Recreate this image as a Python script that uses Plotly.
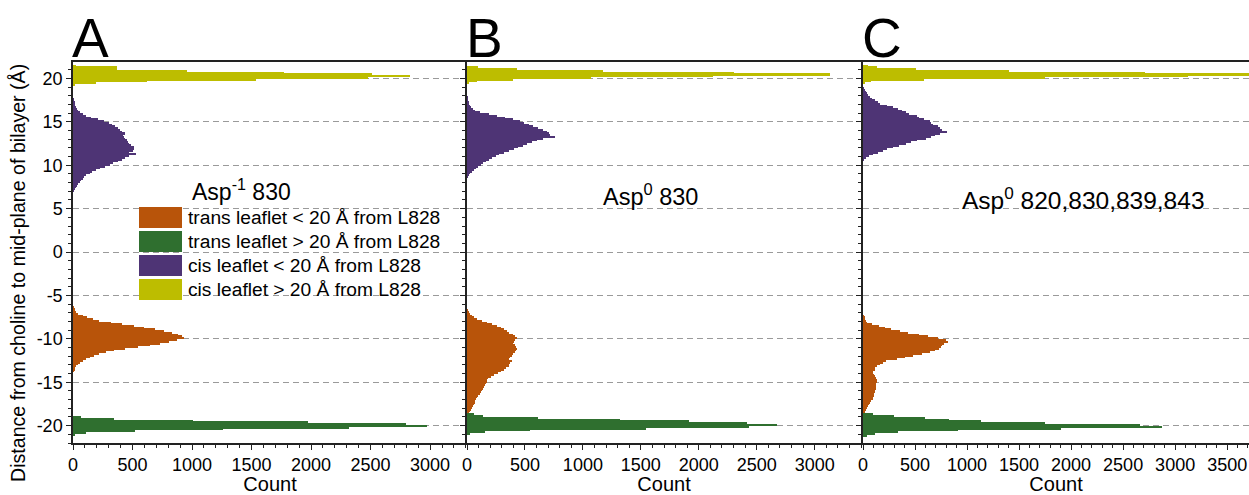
import plotly.graph_objects as go

# ---------------- data (histogram counts, bin width 0.2 Å, listed from lowest bin upward) ----------------
BIN_WIDTH = 0.2
panel_letters = ["A", "B", "C"]
panel_labels = ["Asp<sup>-1</sup> 830", "Asp<sup>0</sup> 830", "Asp<sup>0</sup> 820,830,839,843"]
series_names = ["trans leaflet < 20 Å from L828", "trans leaflet > 20 Å from L828",
                "cis leaflet < 20 Å from L828", "cis leaflet > 20 Å from L828"]
series_colors = ["#B8540A", "#2F6F2F", "#4E3475", "#BDBD00"]

y_tickvals = [-20, -15, -10, -5, 0, 5, 10, 15, 20]
y_ticktext = ["-20", "-15", "-10", "-5", "0", "5", "10", "15", "20"]
x_tickvals_A = [0, 500, 1000, 1500, 2000, 2500, 3000]
x_tickvals_B = [0, 500, 1000, 1500, 2000, 2500, 3000]
x_tickvals_C = [0, 500, 1000, 1500, 2000, 2500, 3000, 3500]
x_max = [3310, 3400, 3710]

# Panel A
A_trans_near_start = -13.8
A_trans_near = [5, 10, 15, 25, 40, 60, 80, 110, 140, 180, 215, 280, 345, 435, 550, 645, 735, 810, 870, 930,
                915, 880, 830, 765, 690, 600, 510, 410, 320, 220, 165, 120, 80, 45, 28, 18, 10, 5]
A_trans_far_start = -21.1
A_trans_far = [15, 105, 520, 1260, 2315, 2970, 2800, 1970, 1010, 345, 65]
A_cis_near_start = 7.0
A_cis_near = [8, 15, 25, 35, 45, 55, 65, 80, 95, 110, 140, 160, 190, 225, 270, 310, 340, 380, 410, 440,
              470, 530, 470, 500, 515, 510, 490, 470, 465, 450, 440, 430, 420, 440, 410, 395, 380, 355, 330, 300,
              260, 210, 150, 110, 80, 60, 45, 35, 25, 20, 15, 10, 6, 3]
A_cis_far_start = 19.2
A_cis_far = [20, 190, 620, 1540, 2480, 2830, 2510, 1770, 955, 370, 370, 25]

# Panel B
B_trans_near_start = -18.8
B_trans_near = [8, 18, 28, 35, 42, 50, 58, 65, 72, 80, 88, 95, 110, 125, 130, 140, 145, 155, 160, 170,
                175, 185, 205, 235, 265, 290, 315, 340, 360, 365, 375, 385, 360, 375, 390, 400, 410, 425, 430, 425,
                410, 395, 405, 415, 430, 410, 395, 365, 345, 315, 290, 260, 220, 175, 130, 85, 62, 45, 28, 15, 3]
B_trans_far_start = -21.0
B_trans_far = [30, 155, 542, 1545, 2433, 2677, 2419, 1917, 1316, 613, 140, 60]
B_cis_near_start = 8.6
B_cis_near = [8, 18, 30, 45, 60, 75, 95, 120, 140, 160, 190, 220, 250, 280, 320, 365, 405, 440, 480, 515,
              560, 600, 660, 760, 720, 705, 690, 655, 615, 570, 535, 490, 455, 400, 325, 255, 190, 110, 72, 55,
              38, 25, 17, 12, 8, 5, 2]
B_cis_far_start = 19.4
B_cis_far = [20, 83, 400, 1070, 2120, 3135, 2300, 1170, 430, 97]

# Panel C
C_trans_near_start = -18.6
C_trans_near = [12, 22, 32, 40, 50, 58, 68, 80, 98, 100, 104, 108, 112, 118, 124, 124, 125, 128, 130, 132,
                128, 118, 108, 98, 100, 112, 120, 130, 160, 195, 225, 325, 400, 485, 570, 645, 690, 735, 750, 760,
                775, 815, 795, 720, 625, 540, 430, 360, 270, 215, 150, 85, 40, 28, 20, 12, 3]
C_trans_far_start = -21.2
C_trans_far = [40, 120, 340, 910, 1900, 2870, 2660, 1750, 1130, 830, 600, 300, 100]
C_cis_near_start = 10.6
C_cis_near = [5, 25, 55, 95, 140, 190, 235, 290, 350, 415, 460, 515, 610, 655, 690, 740, 810, 760, 740, 720,
              670, 650, 640, 590, 540, 515, 440, 410, 375, 340, 290, 230, 165, 140, 115, 90, 65, 48, 35, 25,
              15, 5]
C_cis_far_start = 19.4
C_cis_far = [15, 80, 590, 1750, 3120, 3800, 2710, 1400, 510, 130, 50]

panels = [
    [(A_trans_near_start, A_trans_near), (A_trans_far_start, A_trans_far),
     (A_cis_near_start, A_cis_near), (A_cis_far_start, A_cis_far)],
    [(B_trans_near_start, B_trans_near), (B_trans_far_start, B_trans_far),
     (B_cis_near_start, B_cis_near), (B_cis_far_start, B_cis_far)],
    [(C_trans_near_start, C_trans_near), (C_trans_far_start, C_trans_far),
     (C_cis_near_start, C_cis_near), (C_cis_far_start, C_cis_far)],
]


def bin_centers(start, counts):
    return [round(start + BIN_WIDTH * (i + 0.5), 3) for i in range(len(counts))]


# ---------------- layout geometry (pixels) ----------------
W, H = 1249, 495
L, R, T, B = 73, 0, 62, 52
PW, PH = W - L - R, H - T - B
dom_px = [(73, 467), (467, 861), (863, 1249)]


def px(x):
    return (x - L) / PW


def py(y):
    return (H - B - y) / PH


FONT = "Liberation Sans, Arial, sans-serif"

fig = go.Figure()
for p, series in enumerate(panels):
    xa = "x" if p == 0 else f"x{p + 1}"
    ya = "y" if p == 0 else f"y{p + 1}"
    for s, (start, counts) in enumerate(series):
        fig.add_trace(go.Bar(
            orientation="h", y=bin_centers(start, counts), x=counts, width=BIN_WIDTH,
            marker=dict(color=series_colors[s], line=dict(width=0)),
            name=series_names[s], showlegend=False, xaxis=xa, yaxis=ya,
        ))

xtickvals = [x_tickvals_A, x_tickvals_B, x_tickvals_C]
layout = dict(
    width=W, height=H, margin=dict(l=L, r=R, t=T, b=B),
    plot_bgcolor="white", paper_bgcolor="white", barmode="overlay", bargap=0,
    font=dict(family=FONT, size=18, color="black"),
)
for p in range(3):
    key = "xaxis" if p == 0 else f"xaxis{p + 1}"
    ykey = "yaxis" if p == 0 else f"yaxis{p + 1}"
    layout[key] = dict(
        domain=[px(dom_px[p][0]), px(dom_px[p][1])], range=[0, x_max[p]],
        anchor="y" if p == 0 else f"y{p + 1}",
        tickvals=xtickvals[p], ticktext=[str(v) for v in xtickvals[p]],
        ticks="outside", ticklen=5, tickwidth=1.2, tickcolor="#222",
        minor=dict(ticks="outside", ticklen=3, dtick=100, tick0=0, tickcolor="#222", showgrid=False),
        showline=True, linecolor="#222", linewidth=1.5, mirror=True,
        showgrid=False, zeroline=False,
        tickfont=dict(size=18),
        title=dict(text="Count", font=dict(size=20), standoff=4),
    )
    layout[ykey] = dict(
        domain=[0, 1], range=[-22, 21.9], anchor="x" if p == 0 else f"x{p + 1}",
        tickvals=y_tickvals, ticktext=y_ticktext, showticklabels=(p == 0),
        ticks="outside", ticklen=5, tickwidth=1.2, tickcolor="#222",
        minor=dict(ticks="outside", ticklen=3, dtick=1, tick0=0, tickcolor="#222", showgrid=False),
        showline=True, linecolor="#222", linewidth=1.5,
        showgrid=True, gridcolor="#9a9a9a", gridwidth=1, griddash="6px,4px",
        zeroline=False, tickfont=dict(size=18),
    )
    if p > 0:
        layout[ykey]["matches"] = "y"

annotations = []
# panel letters
for p, letter in enumerate(panel_letters):
    annotations.append(dict(
        text=letter, xref="paper", yref="paper", x=px(dom_px[p][0] - 3), y=py(38),
        xanchor="left", yanchor="middle", showarrow=False, font=dict(size=55, color="black")))
# y axis title
annotations.append(dict(
    text="Distance from choline to mid-plane of bilayer (Å)", xref="paper", yref="paper",
    x=px(18), y=py(273), xanchor="center", yanchor="middle", textangle=-90, showarrow=False,
    font=dict(size=19.6)))
# panel condition labels
label_pos = [(190, 190), (601, 195), (960, 198)]
label_size = [23, 23.5, 24.5]
for p, lab in enumerate(panel_labels):
    annotations.append(dict(
        text=lab, xref="paper", yref="paper", x=px(label_pos[p][0]), y=py(label_pos[p][1]),
        xanchor="left", yanchor="middle", showarrow=False, font=dict(size=label_size[p])))
# manual legend in panel A
shapes = []
row_y = [217.5, 241.5, 265.5, 289.5]
for s, name in enumerate(series_names):
    shapes.append(dict(type="rect", xref="paper", yref="paper",
                       x0=px(139), x1=px(182), y0=py(row_y[s] + 10.5), y1=py(row_y[s] - 10.5),
                       fillcolor=series_colors[s], line=dict(width=0)))
    annotations.append(dict(
        text=name, xref="paper", yref="paper", x=px(186), y=py(row_y[s]),
        xanchor="left", yanchor="middle", showarrow=False, font=dict(size=19.2)))

layout["annotations"] = annotations
layout["shapes"] = shapes
fig.update_layout(**layout)
fig.write_html("out.html", config={"displayModeBar": False},
               post_script="document.body.style.margin='0';document.body.style.overflow='hidden';")
